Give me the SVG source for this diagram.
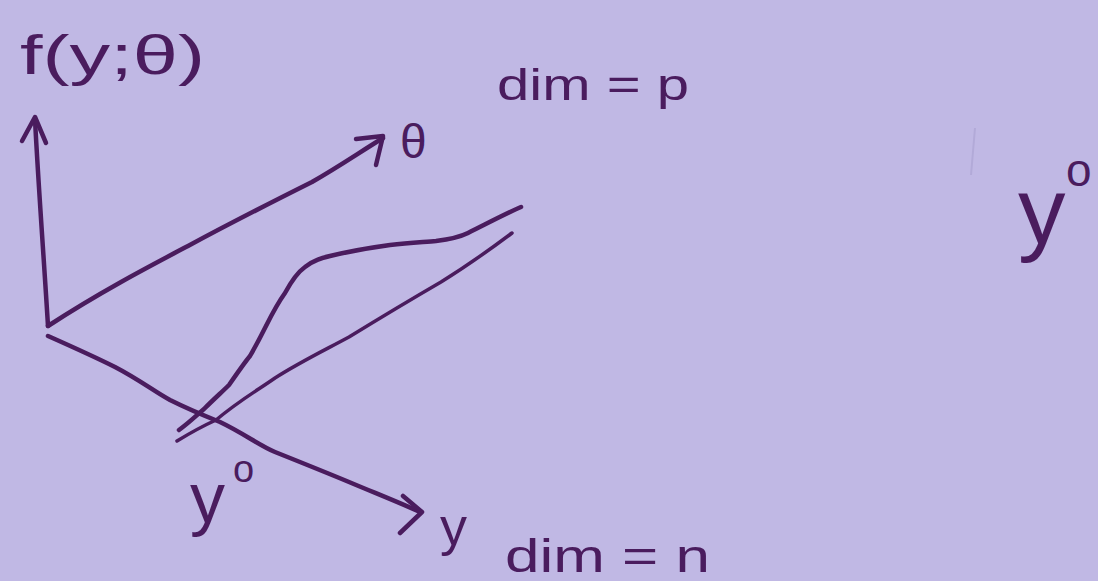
<svg xmlns="http://www.w3.org/2000/svg" width="1098" height="581" viewBox="0 0 1098 581">
<style>
.ink{fill:none;stroke:#4a1c5e;stroke-width:4.5;stroke-linecap:round;stroke-linejoin:round}
.thin{stroke-width:3.5}
.lbl{font-family:"Liberation Sans","DejaVu Sans",sans-serif;fill:#4a1c5e}
</style>
<rect width="1098" height="581" fill="#c0b8e4"/>
<g id="connectors">
<g id="axis-f">
<path class="ink" d="M48,326 C44,260 38,180 35,119"/>
<path class="ink" d="M22,141 L35,117 L46,143"/>
</g>
<g id="axis-theta">
<path class="ink" d="M48,326 C100,292 150,266 188,246 C240,218 280,198 312,182 C340,166 360,152 383,138"/>
<path class="ink" d="M356,139 L383,136 L376,165"/>
</g>
<g id="axis-y">
<path class="ink" d="M48,336 C75,348 95,357 115,367 C140,380 155,392 170,400 C190,410 205,416 220,422 C245,434 260,446 275,452 C300,462 325,472 349,482 C375,493 398,502 420,512"/>
<path class="ink" d="M403,496 L422,512 L400,533"/>
</g>
<g id="curve-1">
<path class="ink" d="M179,430 C190,422 198,414 204,409 C215,398 222,392 229,385 C238,372 245,362 250,356 C258,342 262,334 266,326 C274,310 280,300 285,293 C292,280 298,272 305,267 C314,260 322,258 330,256 C355,250 375,247 390,245 C410,243 425,242 436,241 C452,239 460,237 468,233 C490,222 505,214 521,207"/>
</g>
<g id="curve-2">
<path class="ink thin" d="M177,441 C195,430 205,425 216,420 C240,400 258,390 275,378 C300,362 325,350 349,337 C380,318 410,300 441,282 C470,264 492,248 512,233"/>
</g>
<path d="M975,128 L971,175" stroke="#b2aad8" stroke-width="2" fill="none"/>
</g>
<g id="label-f">
<text class="lbl" x="20" y="74" font-size="56" textLength="185" lengthAdjust="spacingAndGlyphs">f(y;θ)</text>
</g>
<g id="label-theta">
<text class="lbl" x="400" y="158" font-size="48">θ</text>
</g>
<g id="label-dimp">
<text class="lbl" x="497" y="100" font-size="44" textLength="192" lengthAdjust="spacingAndGlyphs">dim = p</text>
</g>
<g id="label-y">
<text class="lbl" x="440" y="545" font-size="54">y</text>
</g>
<g id="label-dimn">
<text class="lbl" x="505" y="572" font-size="46" textLength="205" lengthAdjust="spacingAndGlyphs">dim = n</text>
</g>
<g id="label-y0-left">
<text class="lbl" x="190" y="522" font-size="70">y</text>
<text class="lbl" x="233" y="482" font-size="38">o</text>
</g>
<g id="label-y0-right">
<text class="lbl" x="1018" y="243" font-size="95">y</text>
<text class="lbl" x="1066" y="186" font-size="46">o</text>
</g>
</svg>
